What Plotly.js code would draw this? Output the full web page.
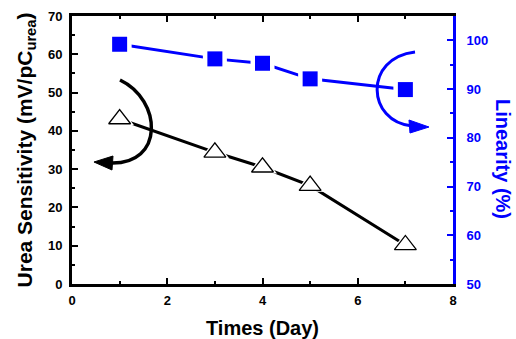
<!DOCTYPE html>
<html>
<head>
<meta charset="utf-8">
<script src="https://cdn.plot.ly/plotly-3.0.1.min.js"></script>
<style>html,body{margin:0;padding:0;background:#fff;}#chart{width:516px;height:339px;}</style>
</head>
<body>
<div id="chart"></div>
<script>
// Data
const days = [1, 3, 4, 5, 7];
const ureaSensitivity = [43.1, 34.4, 30.5, 25.7, 10.2];   // left axis, mV/pC_urea
const linearity = [99.2, 96.2, 95.3, 92.1, 89.9];         // right axis, %
const xTickVals = [0, 2, 4, 6, 8];
const leftTickVals = [0, 10, 20, 30, 40, 50, 60, 70];
const rightTickVals = [50, 60, 70, 80, 90, 100];

const FONT = 'Liberation Sans, Arial, sans-serif';
const BLUE = '#0000ff';

// plot area in pixels (for decorative curved arrows, given in paper coordinates)
const L = 72, T = 16, W = 381, H = 268;
function px(x, y) { return ((x - L) / W).toFixed(4) + ',' + ((T + H - y) / H).toFixed(4); }

const traces = [
  {x: days, y: ureaSensitivity, mode: 'lines', line: {color: '#000', width: 3}, hoverinfo: 'skip', showlegend: false},
  {x: days, y: ureaSensitivity, mode: 'markers', marker: {symbol: 'triangle-up', size: 25, color: '#fff', line: {width: 0}}, hoverinfo: 'skip', showlegend: false},
  {x: days, y: ureaSensitivity, mode: 'markers', name: 'Urea Sensitivity', marker: {symbol: 'triangle-up', size: 19, color: '#fff', line: {color: '#000', width: 1.3}}, showlegend: false},
  {x: days, y: linearity, yaxis: 'y2', mode: 'lines', line: {color: BLUE, width: 3}, hoverinfo: 'skip', showlegend: false},
  {x: days, y: linearity, yaxis: 'y2', mode: 'markers', marker: {symbol: 'square', size: 24, color: '#fff', line: {width: 0}}, hoverinfo: 'skip', showlegend: false},
  {x: days, y: linearity, yaxis: 'y2', mode: 'markers', name: 'Linearity', marker: {symbol: 'square', size: 15, color: BLUE, line: {width: 0}}, showlegend: false}
];

const shapes = [
  {type: 'path', xref: 'paper', yref: 'paper', layer: 'above',
   path: 'M' + px(120, 80) + ' C' + px(162, 100) + ' ' + px(165, 165) + ' ' + px(110, 163),
   line: {color: '#000', width: 3.5}},
  {type: 'path', xref: 'paper', yref: 'paper', layer: 'above',
   path: 'M' + px(94, 162) + ' L' + px(113, 156) + ' L' + px(112, 170) + ' Z',
   fillcolor: '#000', line: {color: '#000', width: 1}},
  {type: 'path', xref: 'paper', yref: 'paper', layer: 'above',
   path: 'M' + px(415, 52) + ' C' + px(363, 58) + ' ' + px(367, 122) + ' ' + px(412, 126),
   line: {color: BLUE, width: 3}},
  {type: 'path', xref: 'paper', yref: 'paper', layer: 'above',
   path: 'M' + px(429, 127) + ' L' + px(409, 120) + ' L' + px(410, 133) + ' Z',
   fillcolor: BLUE, line: {color: BLUE, width: 1}}
];

const layout = {
  width: 516, height: 339,
  margin: {l: L, r: 516 - L - W, t: T, b: 339 - T - H, pad: 0},
  paper_bgcolor: '#fff', plot_bgcolor: '#fff',
  font: {family: FONT, color: '#000'},
  showlegend: false,
  xaxis: {
    range: [0, 8], tickvals: xTickVals, ticktext: xTickVals.map(String),
    showgrid: false, zeroline: false,
    showline: true, linecolor: '#000', linewidth: 3, mirror: 'ticks',
    ticks: 'inside', ticklen: 6, tickwidth: 2, tickcolor: '#000',
    minor: {ticks: 'inside', ticklen: 3, tickwidth: 2, dtick: 1, tick0: 0, tickcolor: '#000', showgrid: false},
    tickfont: {family: FONT, size: 13, weight: 'bold', color: '#000'},
    ticklabelstandoff: 2,
    title: {text: 'Times (Day)', font: {family: FONT, size: 20, weight: 'bold', color: '#000'}, standoff: 15},
    automargin: false
  },
  yaxis: {
    range: [0, 70], tickvals: leftTickVals, ticktext: leftTickVals.map(String),
    showgrid: false, zeroline: false,
    showline: true, linecolor: '#000', linewidth: 3, mirror: false,
    ticks: 'inside', ticklen: 6, tickwidth: 2, tickcolor: '#000',
    minor: {ticks: 'inside', ticklen: 3, tickwidth: 2, dtick: 5, tick0: 0, tickcolor: '#000', showgrid: false},
    tickfont: {family: FONT, size: 13, weight: 'bold', color: '#000'},
    ticklabelstandoff: 4,
    title: {text: 'Urea Sensitivity (mV/pC<sub>urea</sub>)', font: {family: FONT, size: 21, weight: 'bold', color: '#000'}, standoff: 10},
    automargin: false
  },
  yaxis2: {
    overlaying: 'y', side: 'right',
    range: [50, 105], tickvals: rightTickVals, ticktext: rightTickVals.map(String),
    showgrid: false, zeroline: false,
    showline: true, linecolor: BLUE, linewidth: 3,
    ticks: 'inside', ticklen: 6, tickwidth: 2, tickcolor: BLUE,
    minor: {ticks: 'inside', ticklen: 3, tickwidth: 2, dtick: 5, tick0: 50, tickcolor: BLUE, showgrid: false},
    tickfont: {family: FONT, size: 13, weight: 'bold', color: BLUE},
    ticklabelstandoff: 8,
    automargin: false
  },
  annotations: [
    {text: 'Linearity (%)', xref: 'paper', yref: 'paper', x: (503 - L) / W, y: (T + H - 159) / H,
     xanchor: 'center', yanchor: 'middle', textangle: 90, showarrow: false,
     font: {family: FONT, size: 20, weight: 'bold', color: BLUE}}
  ],
  shapes: shapes
};

Plotly.newPlot('chart', traces, layout, {staticPlot: true, displayModeBar: false});
</script>
</body>
</html>
